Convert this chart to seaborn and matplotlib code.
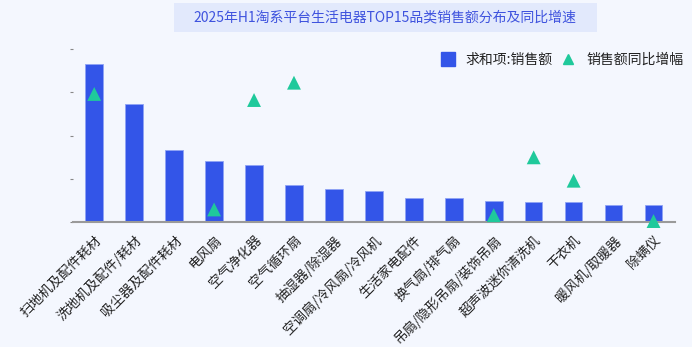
import numpy as np
import pandas as pd
import matplotlib
matplotlib.use("Agg")
import matplotlib.pyplot as plt
import seaborn as sns
from matplotlib.patches import FancyBboxPatch
from matplotlib.lines import Line2D

categories = ["扫地机及配件耗材", "洗地机及配件/耗材", "吸尘器及配件耗材", "电风扇", "空气净化器",
              "空气循环扇", "抽湿器/除湿器", "空调扇/冷风扇/冷风机", "生活家电配件", "换气扇/排气扇",
              "吊扇/隐形吊扇/装饰吊扇", "超声波迷你清洗机", "干衣机", "暖风机/取暖器", "除螨仪"]
sales = [3.66, 2.72, 1.66, 1.40, 1.31, 0.85, 0.755, 0.716, 0.547, 0.547, 0.485, 0.455, 0.455, 0.386, 0.386]
growth = [0.74, np.nan, np.nan, 0.073, 0.705, 0.805, np.nan, np.nan, np.nan, np.nan, 0.04, 0.374, 0.239, np.nan, 0.006]

sns.set_theme(style="white")
plt.rcParams['font.family'] = ['Noto Sans CJK SC', 'DejaVu Sans']

bar_color = "#3355e8"
tri_color = "#1fc99b"
bg = "#f4f7fe"

df = pd.DataFrame({"cat": categories, "sales": sales, "growth": growth})

fig = plt.figure(figsize=(6.92, 3.47), dpi=100)
fig.patch.set_facecolor(bg)
ax = fig.add_axes([0.105, 0.360, 0.870, 0.499])
ax.set_facecolor("none")

sns.barplot(data=df, x="cat", y="sales", color=bar_color, width=0.44, ax=ax,
            saturation=1, edgecolor="#8fa3f5", linewidth=0.6)
ax.set_xlim(-0.54, 14.53)
ax.set_ylim(0, 4)
ax.set_yticks([0, 1, 2, 3, 4])
ax.set_yticklabels([])
ax.tick_params(axis="y", left=True, length=2, width=0.8, color="#888888", pad=0)
ax.tick_params(axis="x", bottom=False, pad=2)
for s in ["top", "right", "left"]:
    ax.spines[s].set_visible(False)
ax.spines["bottom"].set_color("#9a9a9a")
ax.spines["bottom"].set_linewidth(1.5)
ax.set_xlabel("")
ax.set_ylabel("")
ax.set_xticks(range(len(categories)))
ax.set_xticklabels(categories, rotation=45, ha="right", rotation_mode="anchor",
                   fontsize=9.7, color="#222222")

ax2 = ax.twinx()
ax2.set_ylim(0, 1)
sns.scatterplot(data=df, x="cat", y="growth", marker="^", s=100, color=tri_color,
                edgecolor="none", ax=ax2, zorder=5, clip_on=False)
ax2.set_yticks([])
ax2.set_ylabel("")
for s in ax2.spines.values():
    s.set_visible(False)

# title box
box = FancyBboxPatch((174 / 692, 1 - 32 / 347), (597 - 174) / 692, 29 / 347,
                     boxstyle="square,pad=0", transform=fig.transFigure,
                     facecolor="#e2e9fc", edgecolor="none", zorder=0)
fig.patches.append(box)
fig.text(385 / 692, 1 - 17.5 / 347, "2025年H1淘系平台生活电器TOP15品类销售额分布及同比增速",
         ha="center", va="center", fontsize=10, color="#3f53de")

handles = [Line2D([], [], marker="s", linestyle="none", markersize=10, color=bar_color),
           Line2D([], [], marker="^", linestyle="none", markersize=7, color=tri_color)]
fig.legend(handles, ["求和项:销售额", "销售额同比增幅"], loc="center right",
           bbox_to_anchor=(696 / 692, 1 - 60 / 347), ncol=2, frameon=False,
           fontsize=10, handletextpad=0.5, handlelength=1.6, columnspacing=0.3,
           labelcolor="#222222")

fig.savefig("out.png", dpi=100, facecolor=bg)
